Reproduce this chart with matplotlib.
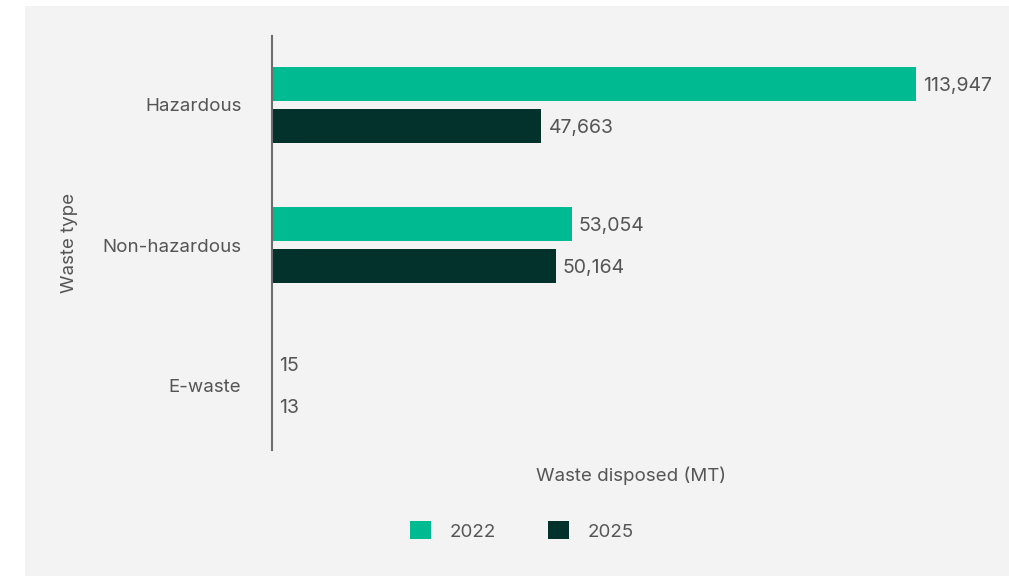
import matplotlib.pyplot as plt
import matplotlib.patches as mpatches
import numpy as np

categories = ['Hazardous', 'Non-hazardous', 'E-waste']
years = ['2022', '2025']
values_2022 = [113947, 53054, 15]
values_2025 = [47663, 50164, 13]
colors = ['#00bb91', '#03312b']

plt.rcParams['font.family'] = ['Inter', 'DejaVu Sans']
text_color = '#555555'
fs = 13.5

fig = plt.figure(figsize=(10.09, 5.76), dpi=100)
fig.patch.set_facecolor('white')
# grey panel behind the chart
fig.patches.append(mpatches.Rectangle((25 / 1009, 0), 1 - 25 / 1009, 1 - 6 / 576,
                                      transform=fig.transFigure, facecolor='#f3f3f3',
                                      edgecolor='none', zorder=-1))

ax = fig.add_axes([272 / 1009, 1 - 450 / 576, (990 - 272) / 1009, (450 - 36) / 576])
ax.set_facecolor('none')

y = np.arange(len(categories))
h = 0.243
off = 0.15
b1 = ax.barh(y - off, values_2022, height=h, color=colors[0], label=years[0])
b2 = ax.barh(y + off, values_2025, height=h, color=colors[1], label=years[1])

for bars in (b1, b2):
    labels = ax.bar_label(bars, labels=[f'{v:,}' for v in bars.datavalues], padding=5,
                          fontsize=fs + 0.5, color=text_color)
    for t in labels:
        t.set_va('center_baseline')

ax.set_xlim(0, 127000)
ax.set_ylim(2.46, -0.49)
ax.set_yticks(y)
ax.set_yticklabels(categories, fontsize=fs, color=text_color, va='center_baseline')
ax.tick_params(axis='y', length=0, pad=22)
ax.set_xticks([])

for s in ['top', 'right', 'bottom']:
    ax.spines[s].set_visible(False)
ax.spines['left'].set_color('#6d6d6d')
ax.spines['left'].set_linewidth(1.5)

ax.set_xlabel('Waste disposed (MT)', fontsize=fs, color=text_color, labelpad=12)
fig.text(70 / 1009, 1 - 243 / 576, 'Waste type', rotation=90, fontsize=fs,
         color=text_color, ha='center', va='center')

leg = fig.legend(loc='center', bbox_to_anchor=(522 / 1009, 1 - 531 / 576), ncol=2,
                 frameon=False, handlelength=1.1, handleheight=1.1,
                 columnspacing=2.8, handletextpad=1.0, fontsize=fs)
for t in leg.get_texts():
    t.set_color(text_color)

fig.savefig('out.png', dpi=100)
